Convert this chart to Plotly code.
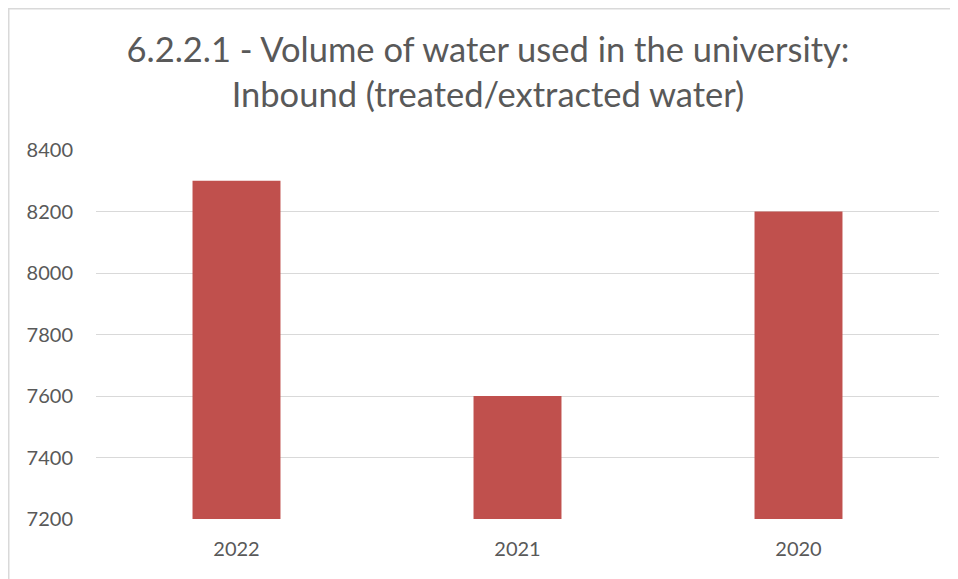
import plotly.graph_objects as go

years = ["2022", "2021", "2020"]
volumes = [8300, 7600, 8200]
y_ticks = [7200, 7400, 7600, 7800, 8000, 8200, 8400]

W, H = 950, 571
ml, mr, mt, mb = 88, 19, 142, 60
pw, ph = W - ml - mr, H - mt - mb

fig = go.Figure(go.Bar(x=years, y=volumes, marker=dict(color="#C0504D", line=dict(width=0)), width=0.313))

fig.update_layout(
    width=W, height=H,
    margin=dict(l=ml, r=mr, t=mt, b=mb),
    paper_bgcolor="white", plot_bgcolor="white",
    font=dict(family="Lato, Open Sans, sans-serif", color="#595959", size=20),
    title=dict(text="6.2.2.1 - Volume of water used in the university:<br>Inbound (treated/extracted water)",
               x=480 / W, xanchor="center", y=1 - 54 / H, yanchor="middle",
               font=dict(size=34.5, color="#595959")),
    showlegend=False,
    xaxis=dict(showline=False, ticks="", ticklabelstandoff=16),
    yaxis=dict(range=[7200, 8400], tickvals=y_ticks, showgrid=True, gridcolor="#D9D9D9",
               gridwidth=1, zeroline=False, showline=False, ticks="", ticklabelstandoff=22),
    shapes=[dict(type="rect", xref="paper", yref="paper",
                 x0=(0.75 - ml) / pw, x1=(990 - ml) / pw,
                 y0=(H - mb - 620) / ph, y1=(H - mb - 0.75) / ph,
                 line=dict(color="#D9D9D9", width=1.5), fillcolor="rgba(0,0,0,0)", layer="below")],
)

fig.write_html("out.html")
